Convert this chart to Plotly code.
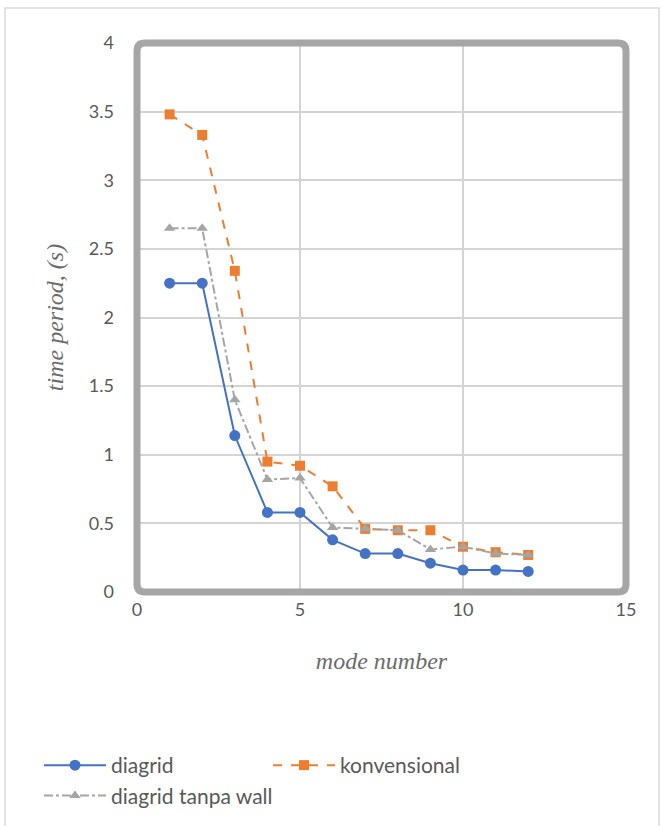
import plotly.graph_objects as go

# mode numbers and periods (s) for each structural system
modes = [1, 2, 3, 4, 5, 6, 7, 8, 9, 10, 11, 12]
diagrid = [2.25, 2.25, 1.14, 0.58, 0.58, 0.38, 0.28, 0.28, 0.21, 0.16, 0.16, 0.15]
konvensional = [3.48, 3.33, 2.34, 0.95, 0.92, 0.77, 0.46, 0.45, 0.45, 0.33, 0.29, 0.27]
tanpa_wall = [2.65, 2.65, 1.40, 0.82, 0.83, 0.47, 0.46, 0.45, 0.31, 0.33, 0.28, 0.27]

x_ticks = [0, 5, 10, 15]
y_ticks = [0, 0.5, 1, 1.5, 2, 2.5, 3, 3.5, 4]

W, H = 662, 826
ML, MR, MT, MB = 137, 36, 43, 234

fig = go.Figure()
fig.add_trace(go.Scatter(
    x=modes, y=diagrid, name="diagrid", mode="lines+markers",
    line=dict(color="#4472c4", width=2),
    marker=dict(symbol="circle", size=11, color="#4472c4"),
))
fig.add_trace(go.Scatter(
    x=modes, y=konvensional, name="konvensional", mode="lines+markers",
    line=dict(color="#ed7d31", width=2, dash="dash"),
    marker=dict(symbol="square", size=10, color="#ed7d31"),
))
fig.add_trace(go.Scatter(
    x=modes, y=tanpa_wall, name="diagrid tanpa wall", mode="lines+markers",
    line=dict(color="#a5a5a5", width=2, dash="dashdot"),
    marker=dict(symbol="triangle-up", size=10, color="#a5a5a5"),
))

# rounded frame around the plotting area (paper coords)
pw, ph = W - ML - MR, H - MT - MB
r = 8
rx, ry = r / pw, r / ph
path = (f"M {rx},0 L {1-rx},0 Q 1,0 1,{ry} L 1,{1-ry} Q 1,1 {1-rx},1 "
        f"L {rx},1 Q 0,1 0,{1-ry} L 0,{ry} Q 0,0 {rx},0 Z")
fig.add_shape(type="path", xref="paper", yref="paper", path=path,
              line=dict(color="#a6a6a6", width=7), layer="above")

# light outer chart border
fig.add_shape(type="rect", xref="paper", yref="paper",
              x0=(5 - ML) / pw, x1=(659 - ML) / pw,
              y0=(H - MB - 840) / ph, y1=(H - MB - 8) / ph,
              line=dict(color="#d9d9d9", width=1.5), layer="below")

tick_font = dict(family="Lato, Open Sans, sans-serif", size=18, color="#595959")
title_font = dict(family="Liberation Serif, serif", size=24, color="#6b6b6b")

fig.update_layout(
    width=W, height=H,
    margin=dict(l=ML, r=MR, t=MT, b=MB, autoexpand=False),
    paper_bgcolor="white", plot_bgcolor="white",
    showlegend=True,
    legend=dict(
        orientation="h", x=(47 - ML - 8) / pw, xanchor="left",
        y=-(766 - (H - MB) - 21) / ph, yanchor="top",
        font=dict(family="Lato, Open Sans, sans-serif", size=21, color="#595959"),
        entrywidth=152, entrywidthmode="pixels", itemwidth=62,
        tracegroupgap=0,
    ),
    xaxis=dict(
        range=[0, 15], tickvals=x_ticks, showgrid=True,
        gridcolor="#d4d4d4", gridwidth=2, zeroline=False, showline=False,
        tickfont=tick_font, ticks="", ticklabelstandoff=5,
        title=dict(text="<i>mode number</i>", font=title_font, standoff=33),
    ),
    yaxis=dict(
        range=[0, 4], tickvals=y_ticks, showgrid=True,
        gridcolor="#d4d4d4", gridwidth=2, zeroline=False, showline=False,
        tickfont=tick_font, ticks="", ticklabelstandoff=22,
        title=dict(text="<i>time period, (s)</i>", font=title_font, standoff=18),
    ),
)

fig.write_html("out.html")
